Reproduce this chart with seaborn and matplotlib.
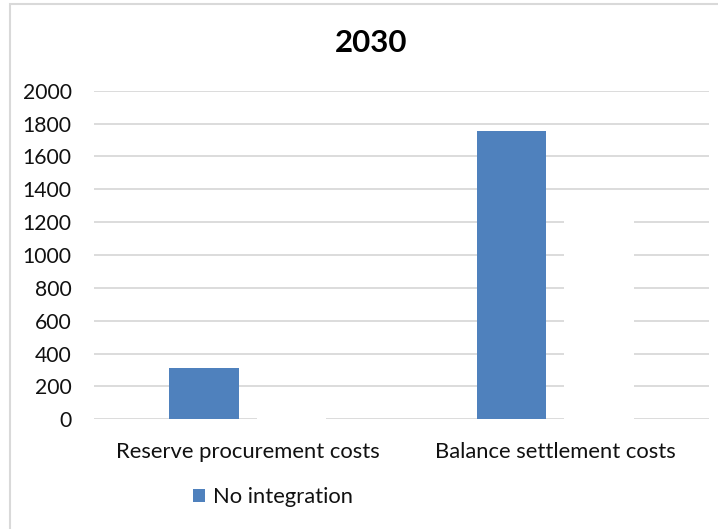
import matplotlib
matplotlib.use("Agg")
import matplotlib.pyplot as plt
import seaborn as sns
import pandas as pd
from matplotlib.patches import Rectangle

# Cost categories and the two scenario series
categories = ["Reserve procurement costs", "Balance settlement costs"]
series_names = ["No integration", "Integration"]
no_integration = [310, 1755]
integration = [5, 1240]
y_ticks = [0, 200, 400, 600, 800, 1000, 1200, 1400, 1600, 1800, 2000]

df = pd.DataFrame({
    "category": categories * 2,
    "series": [series_names[0]] * 2 + [series_names[1]] * 2,
    "cost": no_integration + integration,
})

sns.set_theme(style="white")
plt.rcParams["font.family"] = ["Lato", "DejaVu Sans"]

fig = plt.figure(figsize=(7.18, 5.29), dpi=100)
ax = fig.add_axes([94 / 718, 109.7 / 529, 615 / 718, 328.6 / 529])

sns.barplot(
    data=df, x="category", y="cost", hue="series",
    order=categories, hue_order=series_names,
    palette=["#4F81BD", "#FFFFFF"], width=0.57, gap=0.21,
    saturation=1, linewidth=0, ax=ax,
)

ax.set_axisbelow(True)
ax.set_ylim(0, 2000)
ax.set_xlim(-0.5, 1.5)
ax.set_yticks(y_ticks)
ax.yaxis.grid(True, color="#D9D9D9", linewidth=1.3)
ax.xaxis.grid(False)
for s in ax.spines.values():
    s.set_visible(False)
ax.tick_params(axis="y", length=0, pad=16, labelsize=15.2, labelcolor="#111111")
ax.tick_params(axis="x", length=0, pad=16, labelsize=15.8, labelcolor="#111111")
ax.set_xlabel("")
ax.set_ylabel("")

handles, labels = ax.get_legend_handles_labels()
ax.get_legend().remove()
fig.legend(
    handles[:1], labels[:1], loc="center", bbox_to_anchor=(273 / 718, 1 - 497 / 529),
    frameon=False, fontsize=15.8, handlelength=0.55, handleheight=0.55,
    handletextpad=0.35, labelcolor="#111111",
)

fig.text(371 / 718, 1 - 43 / 529, "2030", ha="center", va="center",
         fontsize=22.5, fontweight="bold", color="#000000")

# Chart-area frame along the top and left edges
fig.patches.append(Rectangle((9.5 / 718, -0.1), 1.2, 1.1 - 4.5 / 529,
                             transform=fig.transFigure, fill=False,
                             edgecolor="#D9D9D9", linewidth=1.5))

fig.savefig("out.png", dpi=100, facecolor="white")
